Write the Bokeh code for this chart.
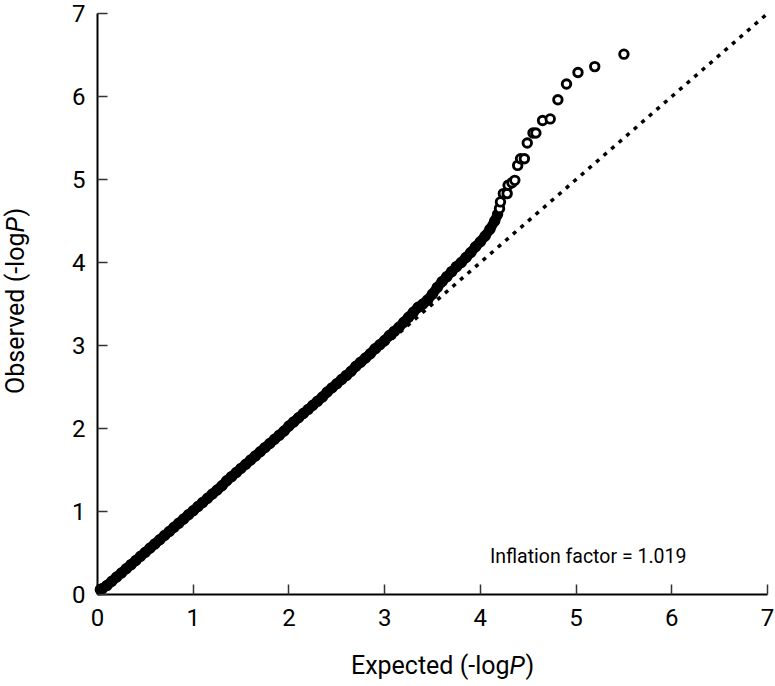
import math
from bokeh.plotting import figure
from bokeh.models import Range1d, FixedTicker, Label
from bokeh.embed import file_html
from bokeh.resources import INLINE

# ---- data ----
expected = [0.03, 0.05, 0.10, 0.15, 0.20, 0.25, 0.30, 0.35, 0.40, 0.45,
            0.50, 0.55, 0.60, 0.65, 0.70, 0.75, 0.80, 0.85, 0.90, 0.95,
            1.00, 1.05, 1.10, 1.15, 1.20, 1.25, 1.30, 1.35, 1.40, 1.45,
            1.50, 1.55, 1.60, 1.65, 1.70, 1.75, 1.80, 1.85, 1.90, 1.95,
            2.00, 2.05, 2.10, 2.15, 2.20, 2.25, 2.30, 2.35, 2.40, 2.45,
            2.50, 2.55, 2.60, 2.65, 2.70, 2.75, 2.80, 2.85, 2.90, 2.95,
            3.00, 3.05, 3.10, 3.15, 3.20, 3.25, 3.30, 3.35, 3.40, 3.45,
            3.50, 3.55, 3.60, 3.65, 3.70, 3.75, 3.80, 3.85, 3.90, 3.95,
            4.00, 4.05, 4.10, 4.15, 4.18]
observed = [0.06, 0.07, 0.11, 0.16, 0.21, 0.26, 0.31, 0.36, 0.41, 0.46,
            0.51, 0.56, 0.61, 0.66, 0.71, 0.76, 0.81, 0.86, 0.91, 0.96,
            1.01, 1.06, 1.11, 1.16, 1.21, 1.26, 1.31, 1.37, 1.42, 1.47,
            1.52, 1.57, 1.62, 1.67, 1.72, 1.77, 1.82, 1.87, 1.92, 1.97,
            2.03, 2.08, 2.13, 2.18, 2.23, 2.28, 2.33, 2.38, 2.44, 2.49,
            2.54, 2.59, 2.64, 2.69, 2.75, 2.80, 2.85, 2.90, 2.96, 3.01,
            3.06, 3.12, 3.17, 3.22, 3.28, 3.34, 3.40, 3.46, 3.50, 3.55,
            3.62, 3.70, 3.77, 3.83, 3.89, 3.95, 4.00, 4.06, 4.12, 4.19,
            4.25, 4.32, 4.40, 4.50, 4.58]

tail_expected = [4.20, 4.21, 4.24, 4.28, 4.29, 4.33, 4.36, 4.39, 4.42, 4.46,
                 4.49, 4.55, 4.58, 4.65, 4.73, 4.81, 4.90, 5.02, 5.195, 5.50]
tail_observed = [4.65, 4.73, 4.83, 4.83, 4.93, 4.96, 4.99, 5.17, 5.25, 5.25,
                 5.44, 5.56, 5.56, 5.71, 5.73, 5.96, 6.15, 6.29, 6.36, 6.51]

ref_x = [0, 7]
ref_y = [0, 7]
ticks = [0, 1, 2, 3, 4, 5, 6, 7]
inflation_text = "Inflation factor = 1.019"
x_label_parts = ["Expected (-log", "P", ")"]
y_label_parts = ["Observed (-log", "P", ")"]

FONT = "Roboto"
W, H = 775, 686
# pixel placement of the axes inside the canvas
X0PX, X7PX = 97, 767
Y0PX, Y7PX = 594, 13
sx = (X7PX - X0PX) / 7.0
sy = (Y0PX - Y7PX) / 7.0

p = figure(width=W, height=H, output_backend="svg", toolbar_location=None,
           x_range=Range1d(-X0PX / sx, 7 + (W - X7PX) / sx),
           y_range=Range1d(-(H - Y0PX) / sy, 7 + Y7PX / sy),
           min_border=0)
p.outline_line_color = None
p.xgrid.visible = False
p.ygrid.visible = False
p.background_fill_color = "white"
p.border_fill_color = "white"

# reference diagonal
p.line(ref_x, ref_y, line_color="black", line_width=3.5, line_dash="4 6")

# dense band of points
p.line(expected, observed, line_color="black", line_width=10, line_cap="round")
p.scatter(expected, observed, size=9, marker="circle", fill_color=None,
          line_color="black", line_width=2.4)
p.scatter(tail_expected, tail_observed, size=8.5, marker="circle",
          fill_color="white", line_color="black", line_width=2.9)

for ax in (p.xaxis[0], p.yaxis[0]):
    ax.fixed_location = 0
    ax.bounds = (0, 7)
    ax.ticker = FixedTicker(ticks=ticks)
    ax.minor_tick_line_color = None
    ax.major_tick_in = 10
    ax.major_tick_out = 0
    ax.major_tick_line_color = "#333333"
    ax.major_tick_line_width = 1.5
    ax.axis_line_color = "black"
    ax.axis_line_width = 2
    ax.major_label_text_font = FONT
    ax.major_label_text_font_size = "24px"
    ax.major_label_text_color = "black"
p.xaxis[0].major_label_standoff = 14
p.yaxis[0].major_label_standoff = 12

# axis titles with italic P, composed of pieces
LBL = dict(text_font=FONT, text_font_size="25px", text_color="black",
           text_baseline="middle")
wP = 16
for txt, align, dx, style in [(x_label_parts[0], "right", 0, "normal"),
                              (x_label_parts[1], "left", 0, "italic"),
                              (x_label_parts[2], "left", wP, "normal")]:
    p.add_layout(Label(x=0, y=0, x_offset=412 + dx, y_offset=-71, text=txt,
                       text_align=align, text_font_style=style, **LBL))
for txt, align, dy, style in [(y_label_parts[0], "right", 0, "normal"),
                              (y_label_parts[1], "left", 0, "italic"),
                              (y_label_parts[2], "left", wP, "normal")]:
    p.add_layout(Label(x=0, y=0, x_offset=-82, y_offset=362 + dy, text=txt,
                       angle=math.pi / 2, text_align=align,
                       text_font_style=style, **LBL))

p.add_layout(Label(x=4.1, y=0.46, text=inflation_text, text_font=FONT,
                   text_font_size="19.5px", text_color="black",
                   text_baseline="middle"))

open("out.html", "w").write(file_html(p, INLINE))
